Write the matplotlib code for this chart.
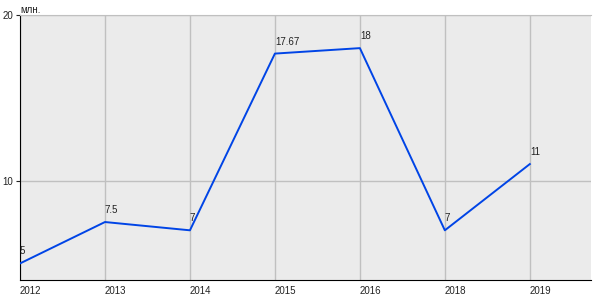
import matplotlib.pyplot as plt

years = ['2012', '2013', '2014', '2015', '2016', '2018', '2019']
values = [5, 7.5, 7, 17.67, 18, 7, 11]
value_labels = ['5', '7.5', '7', '17.67', '18', '7', '11']

plt.rcParams['font.family'] = ['Liberation Sans', 'DejaVu Sans']

fig = plt.figure(figsize=(6, 3), dpi=100)
ax = fig.add_axes([20 / 600, 20 / 300, 571 / 600, 265 / 300])
ax.set_facecolor('#ebebeb')

x = list(range(len(years)))
ax.plot(x, values, color='#0044e6', linewidth=1.4, zorder=3)
for xi, v, lab in zip(x, values, value_labels):
	ax.annotate(lab, (xi, v), xytext=(0, 5), textcoords='offset points',
		fontsize=7, ha='left', va='bottom', color='#222222')

ax.set_xlim(0, 6.72)
ax.set_ylim(4, 20)
ax.set_xticks(x)
ax.set_xticklabels(years, fontsize=7, color='#222222')
ax.set_yticks([10, 20])
ax.set_yticklabels(['10', '20'], fontsize=7, color='#222222')
ax.tick_params(axis='x', length=0, pad=4)
ax.tick_params(axis='y', length=3, pad=2, color='#222222')
for t in ax.get_xticklabels():
	t.set_ha('left')

ax.grid(True, color='#c0c0c0', linewidth=1)
ax.set_axisbelow(True)
ax.spines['right'].set_visible(False)
ax.spines['top'].set_color('#c0c0c0')
ax.spines['left'].set_color('black')
ax.spines['bottom'].set_color('black')
ax.text(0.01, 19.98, 'млн.', fontsize=7, color='#222222', ha='left', va='bottom')

fig.savefig('out.png', dpi=100)
